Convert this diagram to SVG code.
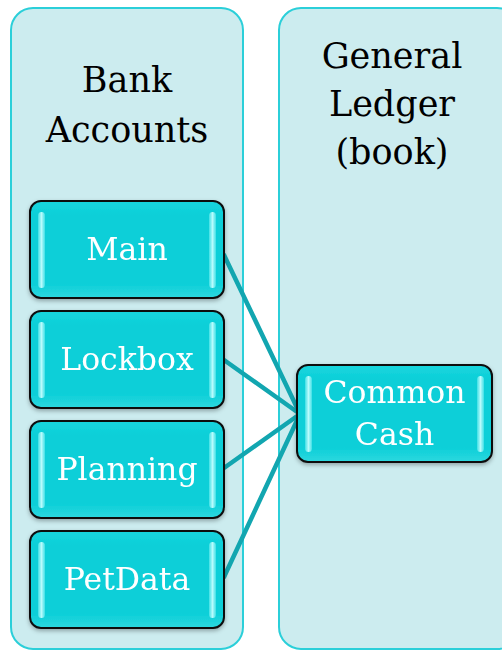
<svg xmlns="http://www.w3.org/2000/svg" width="502" height="652" viewBox="0 0 502 652">
<style>
.cont{fill:#CCECEF;stroke:#2BCFD9;stroke-width:2}
.hl{fill:url(#hlg)}
.title{font-family:"DejaVu Serif","Liberation Serif",serif;font-size:35px;fill:#000;text-anchor:middle}
.lbl{font-family:"DejaVu Serif","Liberation Serif",serif;font-size:31.5px;fill:#fff;text-anchor:middle}
.conn{stroke:#12A6B0;stroke-width:4.5;fill:none;stroke-linecap:round}
.box{fill:url(#ng);stroke:#111;stroke-width:2}
</style>
<defs>
<linearGradient id="hlg" x1="0" y1="0" x2="1" y2="0">
<stop offset="0" stop-color="#3FE0E6"/>
<stop offset="0.5" stop-color="#B8FBFC"/>
<stop offset="1" stop-color="#3FE0E6"/>
</linearGradient>
<linearGradient id="ng" x1="0" y1="0" x2="0" y2="1">
<stop offset="0" stop-color="#1AD6DE"/>
<stop offset="0.15" stop-color="#0BCFD8"/>
<stop offset="0.85" stop-color="#0BCFD8"/>
<stop offset="1" stop-color="#2ED8DF"/>
</linearGradient>
<filter id="sh" x="-10%" y="-10%" width="120%" height="130%">
<feDropShadow dx="0" dy="2" stdDeviation="2" flood-color="#000" flood-opacity="0.3"/>
</filter>
</defs>

<g id="bank-accounts">
<rect class="cont" x="11" y="8" width="232" height="641" rx="22"/>
<text class="title" x="127" y="92">Bank</text>
<text class="title" x="127" y="142">Accounts</text>
</g>
<g id="general-ledger">
<rect class="cont" x="279" y="8" width="240" height="641" rx="22"/>
<text class="title" x="392" y="68">General</text>
<text class="title" x="392" y="116">Ledger</text>
<text class="title" x="392" y="164">(book)</text>
</g>

<g id="connectors">
<line class="conn" x1="224" y1="255" x2="300" y2="414"/>
<line class="conn" x1="224" y1="360" x2="300" y2="414"/>
<line class="conn" x1="224" y1="468" x2="300" y2="414"/>
<line class="conn" x1="224" y1="577" x2="300" y2="414"/>
</g>

<g id="main" filter="url(#sh)">
<rect class="box" x="30" y="201" width="194" height="97" rx="11"/>
<rect class="hl" x="38" y="212" width="7" height="76" rx="3.5"/>
<rect class="hl" x="209" y="212" width="7" height="76" rx="3.5"/>
<text class="lbl" x="127" y="260">Main</text>
</g>
<g id="lockbox" filter="url(#sh)">
<rect class="box" x="30" y="311" width="194" height="97" rx="11"/>
<rect class="hl" x="38" y="322" width="7" height="76" rx="3.5"/>
<rect class="hl" x="209" y="322" width="7" height="76" rx="3.5"/>
<text class="lbl" x="127" y="370">Lockbox</text>
</g>
<g id="planning" filter="url(#sh)">
<rect class="box" x="30" y="421" width="194" height="97" rx="11"/>
<rect class="hl" x="38" y="432" width="7" height="76" rx="3.5"/>
<rect class="hl" x="209" y="432" width="7" height="76" rx="3.5"/>
<text class="lbl" x="127" y="480">Planning</text>
</g>
<g id="petdata" filter="url(#sh)">
<rect class="box" x="30" y="531" width="194" height="97" rx="11"/>
<rect class="hl" x="38" y="542" width="7" height="76" rx="3.5"/>
<rect class="hl" x="209" y="542" width="7" height="76" rx="3.5"/>
<text class="lbl" x="127" y="590">PetData</text>
</g>
<g id="common-cash" filter="url(#sh)">
<rect class="box" x="297" y="365" width="195" height="97" rx="11"/>
<rect class="hl" x="305" y="376" width="7" height="76" rx="3.5"/>
<rect class="hl" x="477" y="376" width="7" height="76" rx="3.5"/>
<text class="lbl" x="394.5" y="403">Common</text>
<text class="lbl" x="394.5" y="445">Cash</text>
</g>
</svg>
